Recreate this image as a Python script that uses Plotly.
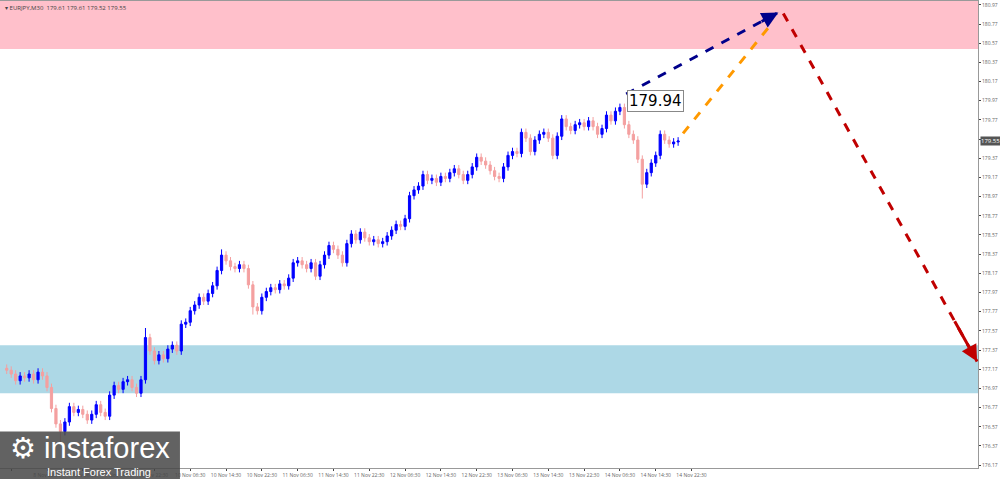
import plotly.graph_objects as go

# hourly closes
closes = [
    177.16, 177.12, 177.05, 177.10, 177.08, 177.12, 177.06, 177.14, 177.10, 176.98,
    176.76, 176.60, 176.52, 176.62, 176.78, 176.72, 176.75, 176.70, 176.64, 176.70,
    176.80, 176.72, 176.68, 176.90, 177.00, 176.96, 177.04, 177.06, 176.98, 176.92,
    177.06, 177.50, 177.36, 177.26, 177.32, 177.28, 177.38, 177.42, 177.36, 177.64,
    177.66, 177.78, 177.84, 177.92, 177.88, 177.96, 178.04, 178.20, 178.36, 178.30,
    178.24, 178.22, 178.26, 178.22, 178.05, 177.82, 177.78, 177.92, 177.98, 178.02,
    178.00, 178.06, 178.04, 178.12, 178.28, 178.30, 178.26, 178.22, 178.28, 178.14,
    178.26, 178.36, 178.46, 178.42, 178.36, 178.28, 178.48, 178.58, 178.52, 178.60,
    178.54, 178.50, 178.52, 178.48, 178.50, 178.56, 178.62, 178.68, 178.66, 178.74,
    178.98, 179.04, 179.08, 179.20, 179.14, 179.16, 179.12, 179.18, 179.16, 179.22,
    179.26, 179.20, 179.14, 179.20, 179.28, 179.38, 179.34, 179.30, 179.24, 179.18,
    179.16, 179.28, 179.40, 179.44, 179.42, 179.64, 179.58, 179.44, 179.56, 179.62,
    179.64, 179.58, 179.40, 179.60, 179.78, 179.70, 179.66, 179.72, 179.74, 179.70,
    179.76, 179.70, 179.62, 179.68, 179.82, 179.76, 179.86, 179.90, 179.72, 179.62,
    179.56, 179.36, 179.10, 179.22, 179.32, 179.40, 179.62, 179.56, 179.52, 179.54,
    179.55,
]
first_open = 177.18
extra_wicks = {12: (None, 176.40), 31: (177.60, None), 137: (179.94, None),
               142: (None, 178.95), 55: (None, 177.74), 48: (178.42, None)}

tick_idx = [1, 9, 17, 25, 33, 41, 49, 57, 65, 73, 81, 89, 97, 105, 113, 121, 129, 137, 145, 153]
tick_text = ["8 Nov 14:30", "8 Nov 22:30", "9 Nov 06:30", "9 Nov 14:30", "9 Nov 22:30",
             "10 Nov 06:30", "10 Nov 14:30", "10 Nov 22:30", "11 Nov 06:30", "11 Nov 14:30",
             "11 Nov 22:30", "12 Nov 06:30", "12 Nov 14:30", "12 Nov 22:30", "13 Nov 06:30",
             "13 Nov 14:30", "13 Nov 22:30", "14 Nov 06:30", "14 Nov 14:30", "14 Nov 22:30"]
price_ticks = [round(176.17 + 0.2 * k, 2) for k in range(25)]

opens = [first_open] + closes[:-1]
highs, lows = [], []
for i, (o, c) in enumerate(zip(opens, closes)):
    h, l = max(o, c) + 0.04, min(o, c) - 0.04
    if i in extra_wicks:
        eh, el = extra_wicks[i]
        h = eh if eh else h
        l = el if el else l
    highs.append(h)
    lows.append(l)

fig = go.Figure()
fig.add_trace(go.Candlestick(
    x=list(range(len(closes))), open=opens, high=highs, low=lows, close=closes,
    increasing=dict(line=dict(color="#0000ff", width=1), fillcolor="#0000ff"),
    decreasing=dict(line=dict(color="#f4a0a0", width=1), fillcolor="#f4a0a0"),
    whiskerwidth=0, showlegend=False, hoverinfo="skip",
))

# zones
fig.add_shape(type="rect", xref="paper", x0=0, x1=1, y0=180.51, y1=181.1,
              fillcolor="#ffc0cb", line_width=0, layer="below")
fig.add_shape(type="rect", xref="paper", x0=0, x1=1, y0=176.92, y1=177.42,
              fillcolor="#add8e6", line_width=0, layer="below")

# forecast arrows (dashed shaft + head)
arrows = [
    (138.4, 180.04, 172.4, 180.89, "#00008b"),
    (151.1, 179.63, 171.0, 180.78, "#ff9900"),
    (173.5, 180.88, 216.8, 177.25, "#c00000"),
]
for x0, y0, x1, y1, col in arrows:
    fig.add_shape(type="line", x0=x0, y0=y0, x1=x1, y1=y1,
                  line=dict(color=col, width=3, dash="dash"))
for x0, y0, x1, y1, col in [arrows[0], arrows[2]]:
    fig.add_annotation(x=x1, y=y1, ax=x1 - (x1 - x0) * 0.12, ay=y1 - (y1 - y0) * 0.12,
                       xref="x", yref="y", axref="x", ayref="y", text="",
                       showarrow=True, arrowhead=2, arrowsize=1.1, arrowwidth=3, arrowcolor=col)

fig.add_annotation(x=138.6, y=179.97, text="179.94", showarrow=False, xanchor="left",
                   font=dict(size=15, color="black", family="DejaVu Sans"),
                   bgcolor="white", bordercolor="#888", borderwidth=1, borderpad=1)
fig.add_annotation(x=1.002, y=179.55, xref="paper", text="179.55", showarrow=False,
                   xanchor="left", font=dict(size=6, color="white"), bgcolor="#555", borderpad=0)
fig.add_annotation(x=0.003, y=0.997, xref="paper", yref="paper", xanchor="left", yanchor="top",
                   text="▾ EURJPY,M30  179.61 179.61 179.52 179.55", showarrow=False,
                   font=dict(size=6, color="#444"))

# watermark
fig.add_shape(type="rect", xref="paper", yref="paper", x0=0, x1=0.184, y0=-0.03, y1=0.078,
              fillcolor="rgba(70,70,70,0.85)", line_width=0)
fig.add_annotation(x=0.008, y=0.082, xref="paper", yref="paper", xanchor="left", yanchor="top",
                   text="⚙ instaforex", showarrow=False,
                   font=dict(size=29, color="white", family="Liberation Sans"))
fig.add_annotation(x=0.046, y=0.008, xref="paper", yref="paper", xanchor="left", yanchor="top",
                   text="Instant Forex Trading", showarrow=False,
                   font=dict(size=11, color="white", family="Liberation Sans"))

fig.update_layout(
    width=1000, height=479, margin=dict(l=0, r=22, t=1, b=11, autoexpand=False),
    paper_bgcolor="white", plot_bgcolor="white",
    xaxis=dict(range=[-1.5, 217], rangeslider=dict(visible=False), tickvals=tick_idx,
               ticktext=tick_text, tickfont=dict(size=5, color="#666"), showgrid=False,
               zeroline=False, showline=True, linecolor="#999", mirror=True,
               ticks="outside", ticklen=2, automargin=False),
    yaxis=dict(range=[176.14, 181.01], side="right", tickvals=price_ticks,
               ticktext=[f"{v:.2f}" for v in price_ticks], tickfont=dict(size=5, color="#666"),
               showgrid=False, zeroline=False, showline=True, linecolor="#999", mirror=True,
               ticks="outside", ticklen=2, automargin=False),
)

fig.write_html("out.html", config={"displayModeBar": False},
               post_script="document.body.style.margin='0';")
